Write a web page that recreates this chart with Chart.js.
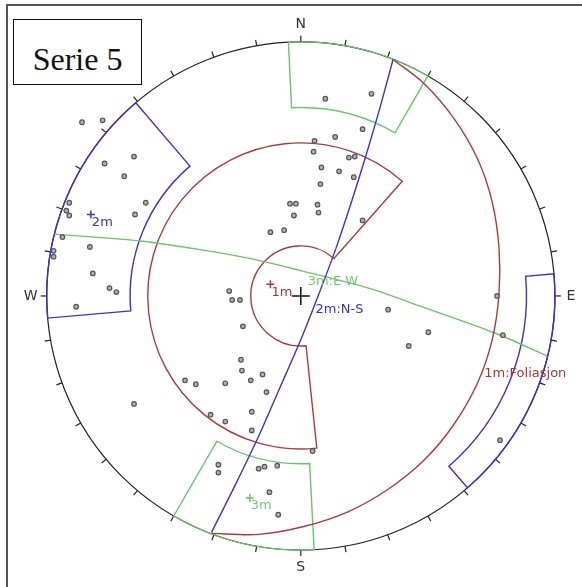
<!DOCTYPE html>
<html>
<head>
<meta charset="utf-8">
<title>Serie 5</title>
<script src="https://cdn.jsdelivr.net/npm/chart.js@4.4.1/dist/chart.umd.min.js"></script>
<style>
  body { margin: 0; background: #fff; }
  #wrap { position: relative; width: 582px; height: 587px; overflow: hidden; }
  #frame { position: absolute; left: 6px; top: 4px; right: -10px; bottom: -10px;
           border-top: 2px solid #555; border-left: 2px solid #555; }
  canvas { position: absolute; left: 0; top: 0; }
  #title { position: absolute; left: 13px; top: 19px; width: 127px; height: 64px;
           border: 1.5px solid #111; background: #fff; }
  #title span { position: absolute; left: 0; right: 0; top: 23px; text-align: center;
                font: 32px "Liberation Serif", serif; line-height: 32px; color: #111; }
</style>
</head>
<body>
<div id="wrap">
  <div id="frame"></div>
  <canvas id="net" width="582" height="587"></canvas>
  <div id="title"><span>Serie 5</span></div>
</div>
<script>
// net units: offset from the centre of the net, radius of the net = 259
const NET_R = 259;

// measured poles (x east, y north)
const dotsNW = [[-223,177],[-202,179],[-200,135],[-170,142],[-180,122],[-236,95],[-158,95],
  [-239,87],[-236,82],[-169,83],[-243,60],[-215,50],[-252,46],[-252,40],[-212,23],[-195,8],
  [-188,4],[-229,-11]];
const dotsNorth = [[25,201],[72,206],[63,170],[14,158],[35,162],[13,147],[49,141],[55,142],
  [21,131],[39,127],[54,121],[20,114],[-11,94],[-5,94],[17,93],[-7,82],[18,85],[63,77],
  [-31,65],[-17,67]];
const dotsCentre = [[-73,5],[-70,-4],[-62,-4],[-59,-31],[-61,-65],[-60,-76],[-39,-80],
  [-51,-86],[-118,-86],[-107,-90],[-77,-89],[-35,-98],[-50,-118],[-92,-121],[-77,-128],
  [-50,-137],[12,-158],[-170,-110]];
const dotsSouth = [[-84,-172],[-84,-180],[-43,-176],[-37,-174],[-24,-173],[-32,-200],[-23,-223]];
const dotsEast = [[89,-14],[130,-37],[110,-51],[200,0],[206,-40],[203,-147]];

// great circles of the mean planes
const gcFoliasjon = [[94,241],[125,217],[156,181],[180,140],[195,96],[202,49],[202,2],
  [195,-45],[180,-89],[156,-131],[126,-167],[89,-197],[48,-220],[3,-235],[-43,-243],[-91,-242]];
const gcNS = [[94,241],[81,193],[67,145],[52,97],[36,49],[18,1],[-1,-47],[-22,-95],
  [-43,-143],[-66,-191],[-91,-241]];
const gcEW = [[-251,63],[-164,56],[-101,47],[-51,38],[-1,26],[69,8],[129,-13],[196,-37],[251,-61]];
const gcNames = ['1m:Foliasjon', '2m:N-S', '3m:E-W'];
const gcLabelAt = [[187,-79],[15,-14],[7,15]];

// mean poles
const poleNames = ['1m', '2m', '3m'];
const polePos = [[-31,12],[-214,83],[-52,-206]];

// selection windows: azimuth range (deg, clockwise from N) and radius range
const windowSet = [1, 2, 2, 3, 3];
const windowAz = [[174,401.5],[265,319.5],[85,139],[177,210],[357.2,390]];
const windowR = [[51,156],[174,259],[230,259],[171,259],[192,259]];

const setColor = { 1: '#b03a3a', 2: '#3535d0', 3: '#66c866' };
const setText = { 1: '#a83434', 2: '#3434c0', 3: '#74c874' };
const toXY = (arr) => arr.map((p) => ({ x: p[0], y: p[1] }));

const netPlugin = {
  id: 'net',
  beforeDatasetsDraw(chart) {
    const ctx = chart.ctx, xs = chart.scales.x, ys = chart.scales.y;
    const cx = xs.getPixelForValue(0), cy = ys.getPixelForValue(0);
    const rad = (v) => xs.getPixelForValue(v) - cx;
    const R = rad(NET_R);
    const ang = (az) => (az - 90) * Math.PI / 180;
    ctx.save();
    ctx.strokeStyle = '#222';
    ctx.lineWidth = 1.2;
    ctx.beginPath();
    ctx.arc(cx, cy, R, 0, Math.PI * 2);
    ctx.stroke();
    for (let az = 0; az < 360; az += 10) {
      const a = ang(az);
      ctx.beginPath();
      ctx.moveTo(cx + R * Math.cos(a), cy + R * Math.sin(a));
      ctx.lineTo(cx + (R + 6) * Math.cos(a), cy + (R + 6) * Math.sin(a));
      ctx.stroke();
    }
    // windows
    ctx.lineWidth = 1.4;
    windowAz.forEach((az, i) => {
      const a1 = ang(az[0]), a2 = ang(az[1]);
      ctx.strokeStyle = setColor[windowSet[i]];
      ctx.beginPath();
      ctx.arc(cx, cy, rad(windowR[i][1]), a1, a2, false);
      ctx.arc(cx, cy, rad(windowR[i][0]), a2, a1, true);
      ctx.closePath();
      ctx.stroke();
    });
    // centre
    ctx.strokeStyle = '#111';
    ctx.lineWidth = 1.5;
    ctx.beginPath();
    ctx.moveTo(cx - 9, cy); ctx.lineTo(cx + 9, cy);
    ctx.moveTo(cx, cy - 9); ctx.lineTo(cx, cy + 9);
    ctx.stroke();
    // compass letters
    ctx.fillStyle = '#333';
    ctx.font = '14px "DejaVu Sans", sans-serif';
    ctx.textAlign = 'center';
    ctx.textBaseline = 'middle';
    [['N', 0], ['E', 90], ['S', 180], ['W', 270]].forEach(([t, az]) => {
      const a = ang(az);
      ctx.fillText(t, cx + (R + 16) * Math.cos(a), cy + (R + 17) * Math.sin(a));
    });
    ctx.restore();
  },
  afterDatasetsDraw(chart) {
    const ctx = chart.ctx, xs = chart.scales.x, ys = chart.scales.y;
    ctx.save();
    ctx.font = '13px "DejaVu Sans", sans-serif';
    ctx.textAlign = 'left';
    ctx.textBaseline = 'middle';
    gcNames.forEach((t, i) => {
      ctx.fillStyle = setText[i + 1];
      ctx.fillText(t, xs.getPixelForValue(gcLabelAt[i][0]), ys.getPixelForValue(gcLabelAt[i][1]));
    });
    poleNames.forEach((t, i) => {
      ctx.fillStyle = setText[i + 1];
      ctx.fillText(t, xs.getPixelForValue(polePos[i][0]) + 1, ys.getPixelForValue(polePos[i][1]) + 8);
    });
    ctx.restore();
  }
};

const allDots = [].concat(dotsNW, dotsNorth, dotsCentre, dotsSouth, dotsEast);
const gcData = [gcFoliasjon, gcNS, gcEW];

const datasets = [
  {
    label: 'Poler',
    data: toXY(allDots),
    pointRadius: 2.3,
    borderWidth: 1.2,
    borderColor: '#555',
    backgroundColor: '#b0b0b0',
    showLine: false,
  },
];
poleNames.forEach((name, i) => {
  datasets.push({
    label: name,
    data: toXY([polePos[i]]),
    pointStyle: 'cross',
    pointRadius: 4,
    borderWidth: 1.5,
    borderColor: setColor[i + 1],
    showLine: false,
  });
});
gcData.forEach((gc, i) => {
  datasets.push({
    label: gcNames[i],
    data: toXY(gc),
    showLine: true,
    pointRadius: 0,
    borderWidth: 1.4,
    borderColor: setColor[i + 1],
    tension: 0.3,
    fill: false,
  });
});

new Chart(document.getElementById('net'), {
  type: 'scatter',
  data: { datasets: datasets },
  options: {
    responsive: false,
    animation: false,
    layout: { padding: 0 },
    plugins: { legend: { display: false }, tooltip: { enabled: false } },
    scales: {
      x: { type: 'linear', min: -301, max: 281, display: false },
      y: { type: 'linear', min: -291, max: 296, display: false },
    },
  },
  plugins: [netPlugin],
});
</script>
</body>
</html>
